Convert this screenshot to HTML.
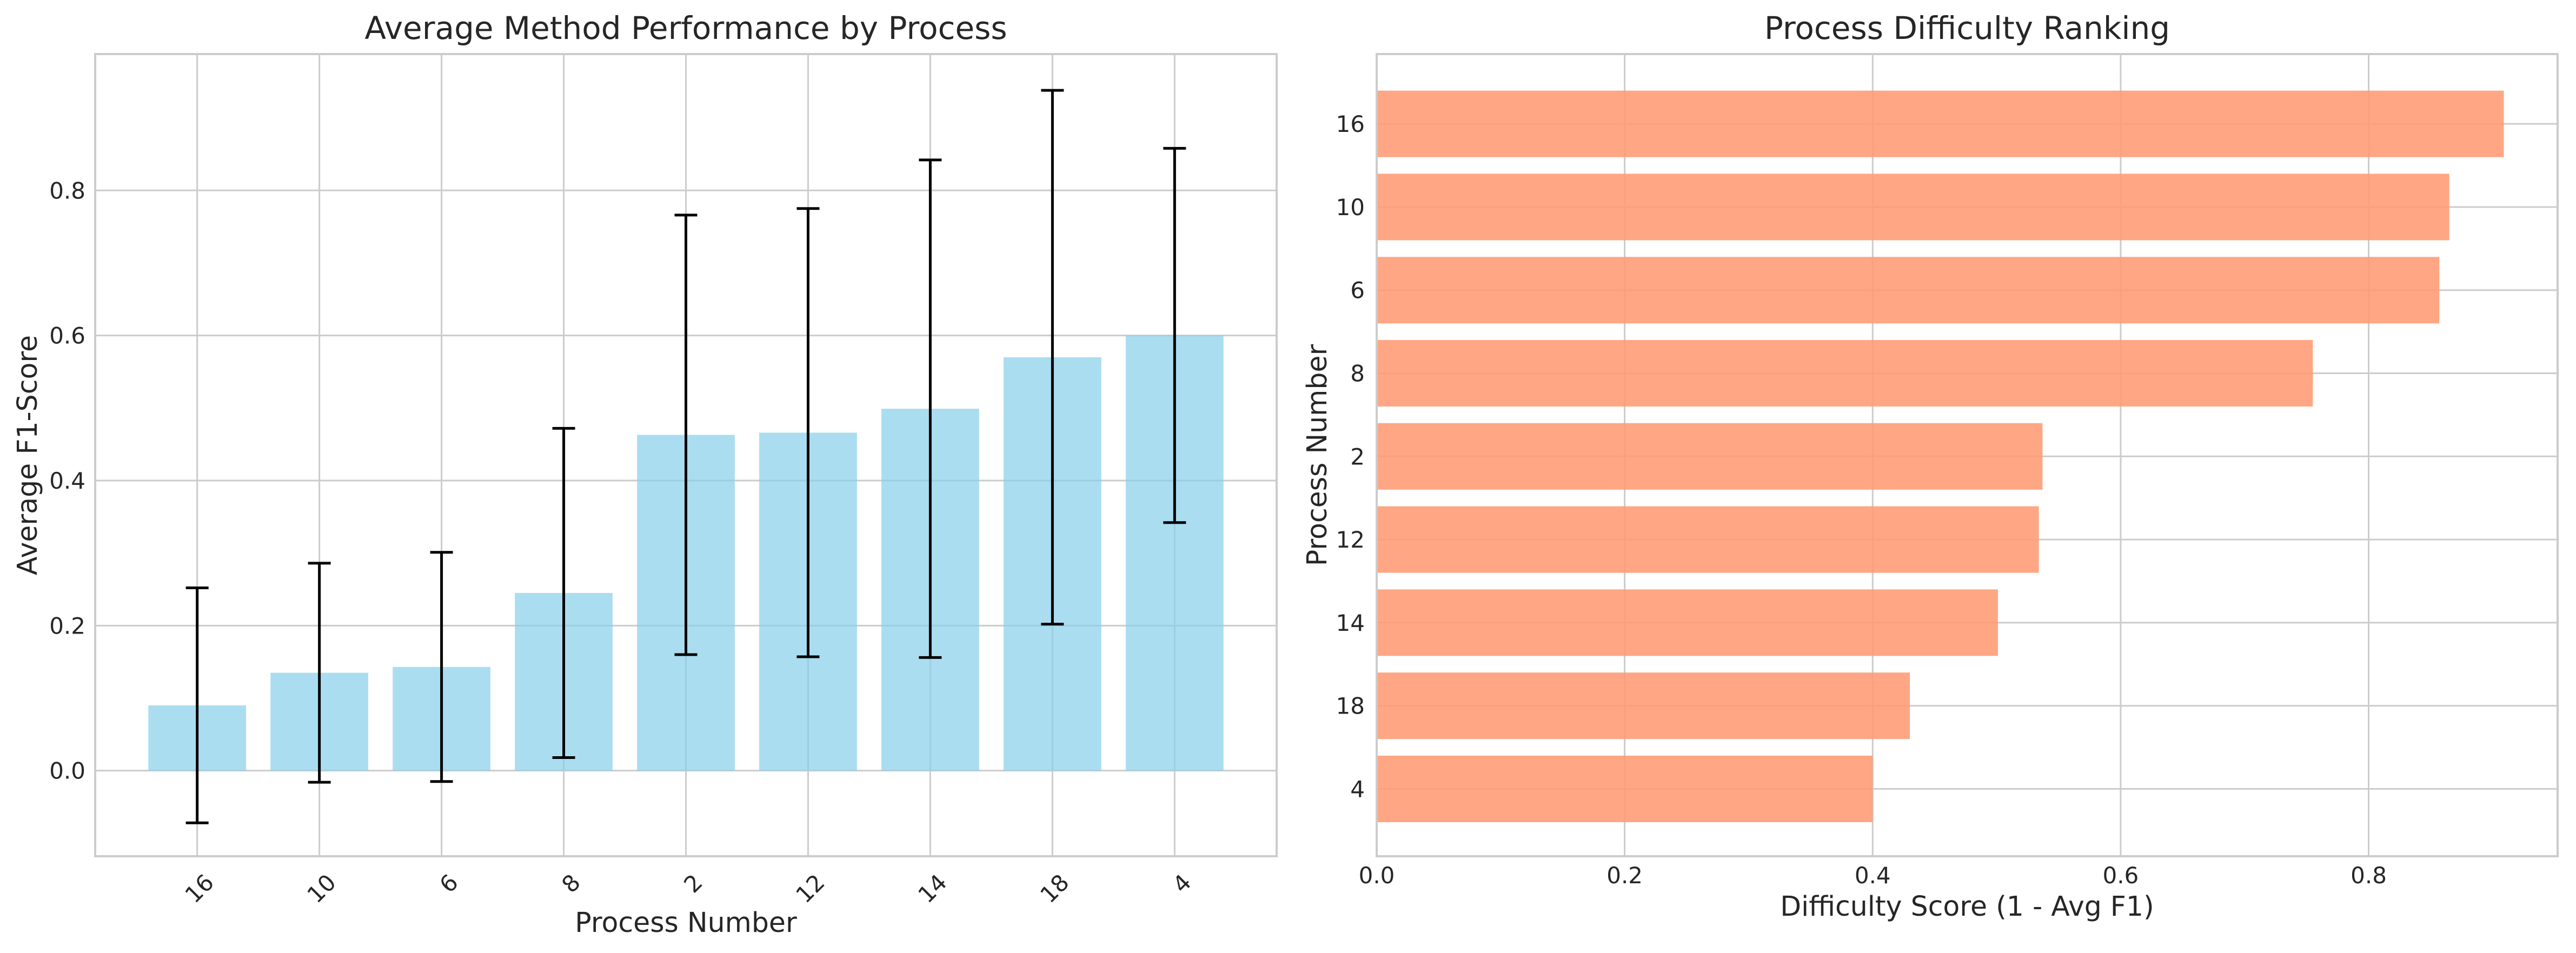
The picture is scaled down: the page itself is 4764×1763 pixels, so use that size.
<!DOCTYPE html>
<html><head><meta charset="utf-8">
<style>
html,body{margin:0;padding:0;background:#fff;}
svg{display:block;font-family:"DejaVu Sans","Liberation Sans",sans-serif;}
</style></head>
<body>
<svg id="fig" width="4764" height="1763" viewBox="0 0 4764 1763" xmlns="http://www.w3.org/2000/svg">
<rect width="4764" height="1763" fill="#fff"/>
<g id="left"></g>
<g id="right"></g>
</svg>
<script>
const perfCategories = ["16","10","6","8","2","12","14","18","4"];
const perfMeans = [0.090, 0.135, 0.143, 0.245, 0.463, 0.466, 0.499, 0.570, 0.600];
const perfStds = [0.162, 0.151, 0.158, 0.227, 0.303, 0.309, 0.343, 0.368, 0.258];
const perfYTicks = [0.0, 0.2, 0.4, 0.6, 0.8];

const diffCategories = ["4","18","14","12","2","8","6","10","16"];
const diffScores = [0.400, 0.430, 0.501, 0.534, 0.537, 0.755, 0.857, 0.865, 0.909];
const diffXTicks = [0.0, 0.2, 0.4, 0.6, 0.8];

const NS = "http://www.w3.org/2000/svg";
function mk(parent, tag, attrs, text){
  const e = document.createElementNS(NS, tag);
  for (const k in attrs) e.setAttribute(k, attrs[k]);
  if (text !== undefined) e.textContent = text;
  parent.appendChild(e);
  return e;
}
const GRID = "#cccccc", TXT = "#262626";

// ---------- Left chart ----------
(function(){
  const g = document.getElementById('left');
  const L = 176, R = 2361, T = 100, B = 1584;
  const xmin = -0.835, xmax = 8.835, ymin = -0.118, ymax = 0.988;
  const sx = v => L + (v - xmin) / (xmax - xmin) * (R - L);
  const sy = v => B - (v - ymin) / (ymax - ymin) * (B - T);
  perfYTicks.forEach(t => {
    const l = mk(g, 'line', {x1:L, x2:R, y1:sy(t), y2:sy(t), stroke:GRID, 'stroke-width':3});
    
    
    const tx = mk(g, 'text', {x:L-18, y:sy(t)+15, 'text-anchor':'end', 'font-size':42, fill:TXT}, t.toFixed(1));
    
    
  });
  perfCategories.forEach((c, i) => {
    const l = mk(g, 'line', {x1:sx(i), x2:sx(i), y1:T, y2:B, stroke:GRID, 'stroke-width':3});
    
    
  });
  perfCategories.forEach((c, i) => {
    const w = 0.8 * (R - L) / (xmax - xmin);
    const top = sy(perfMeans[i]), base = sy(0);
    const r = mk(g, 'rect', {x:sx(i)-w/2, y:Math.min(top,base), width:w, height:Math.abs(base-top), fill:'#87ceeb', 'fill-opacity':0.7});
    
    
  });
  perfCategories.forEach((c, i) => {
    const x = sx(i), y1 = sy(perfMeans[i] + perfStds[i]), y2 = sy(perfMeans[i] - perfStds[i]);
    const eg = mk(g, 'g', {stroke:'#000', 'stroke-width':5});
    
    
    mk(eg, 'line', {x1:x, x2:x, y1:y1, y2:y2});
    mk(eg, 'line', {x1:x-21, x2:x+21, y1:y1, y2:y1});
    mk(eg, 'line', {x1:x-21, x2:x+21, y1:y2, y2:y2});
  });
  perfCategories.forEach((c, i) => {
    const x = sx(i) + 12, y = B + 30;
    const t = mk(g, 'text', {x:x, y:y, 'text-anchor':'end', 'font-size':42, fill:TXT, transform:`rotate(-45 ${x} ${y}) translate(0 30)`}, c);
    
    
  });
  const f = mk(g, 'rect', {x:L, y:T, width:R-L, height:B-T, fill:'none', stroke:GRID, 'stroke-width':4});
  
  
  const ti = mk(g, 'text', {x:(L+R)/2, y:72, 'text-anchor':'middle', 'font-size':58, fill:TXT}, 'Average Method Performance by Process');
  
  
  const xl = mk(g, 'text', {x:(L+R)/2, y:1724, 'text-anchor':'middle', 'font-size':50.5, fill:TXT}, 'Process Number');
  
  
  const yl = mk(g, 'text', {x:0, y:0, 'text-anchor':'middle', 'font-size':50.5, fill:TXT, transform:`translate(68 ${(T+B)/2}) rotate(-90)`}, 'Average F1-Score');
  
  
})();

// ---------- Right chart ----------
(function(){
  const g = document.getElementById('right');
  const L = 2546, R = 4730, T = 100, B = 1584;
  const xmin = 0, xmax = 0.9524, ymin = -0.81, ymax = 8.84;
  const sx = v => L + (v - xmin) / (xmax - xmin) * (R - L);
  const sy = v => B - (v - ymin) / (ymax - ymin) * (B - T);
  diffXTicks.forEach(t => {
    const l = mk(g, 'line', {x1:sx(t), x2:sx(t), y1:T, y2:B, stroke:GRID, 'stroke-width':3});
    
    
    const tx = mk(g, 'text', {x:sx(t), y:B+50, 'text-anchor':'middle', 'font-size':42, fill:TXT}, t.toFixed(1));
    
    
  });
  diffCategories.forEach((c, i) => {
    const l = mk(g, 'line', {x1:L, x2:R, y1:sy(i), y2:sy(i), stroke:GRID, 'stroke-width':3});
    
    
    const tx = mk(g, 'text', {x:L-22, y:sy(i)+15, 'text-anchor':'end', 'font-size':42, fill:TXT}, c);
    
    
  });
  diffCategories.forEach((c, i) => {
    const h = 0.8 * (B - T) / (ymax - ymin);
    const r = mk(g, 'rect', {x:sx(0), y:sy(i)-h/2, width:sx(diffScores[i])-sx(0), height:h, fill:'#ff9a73', 'fill-opacity':0.88});
    
    
  });
  const f = mk(g, 'rect', {x:L, y:T, width:R-L, height:B-T, fill:'none', stroke:GRID, 'stroke-width':4});
  
  
  const ti = mk(g, 'text', {x:(L+R)/2, y:72, 'text-anchor':'middle', 'font-size':58, fill:TXT}, 'Process Difficulty Ranking');
  
  
  const xl = mk(g, 'text', {x:(L+R)/2, y:1694, 'text-anchor':'middle', 'font-size':50.5, fill:TXT}, 'Difficulty Score (1 - Avg F1)');
  
  
  const yl = mk(g, 'text', {x:0, y:0, 'text-anchor':'middle', 'font-size':50.5, fill:TXT, transform:`translate(2453 ${(T+B)/2}) rotate(-90)`}, 'Process Number');
  
  
})();
</script>
</body></html>
